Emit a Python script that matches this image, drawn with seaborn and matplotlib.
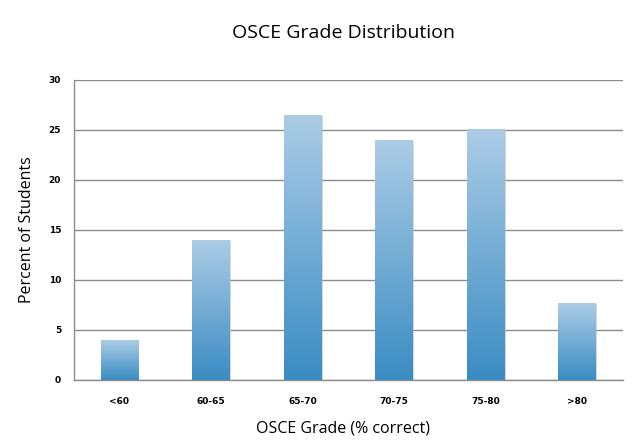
import numpy as np
import pandas as pd
import matplotlib
matplotlib.use('Agg')
import matplotlib.pyplot as plt
import seaborn as sns
from matplotlib.colors import LinearSegmentedColormap

# Data
grades = ['<60', '60-65', '65-70', '70-75', '75-80', '>80']
percent = [3.9, 13.9, 26.4, 23.9, 25.0, 7.6]
df = pd.DataFrame({'grade': grades, 'percent': percent})

sns.set_style('white')
plt.rcParams['font.family'] = ['Open Sans', 'DejaVu Sans']
plt.rcParams['text.color'] = 'black'
plt.rcParams['xtick.color'] = 'black'
plt.rcParams['ytick.color'] = 'black'

fig = plt.figure(figsize=(6.4, 4.46), dpi=100)
ax = fig.add_axes([0.115, 0.148, 0.858, 0.673])

sns.barplot(data=df, x='grade', y='percent', ax=ax, width=0.41,
            color='#6aa8d4', edgecolor='none', zorder=3)

# gradient fill: light at top, deeper blue at the bottom
cmap = LinearSegmentedColormap.from_list('bar', ['#3a8cc3', '#abcce6'])
grad = np.linspace(0, 1, 256).reshape(-1, 1)
for p in ax.patches:
    x0, w, h = p.get_x(), p.get_width(), p.get_height()
    # soft shadow
    ax.add_patch(plt.Rectangle((x0 + 0.015, -0.15), w, h + 0.1, color='#bbbbbb',
                               alpha=0.6, zorder=2, lw=0))
    ax.imshow(grad, cmap=cmap, aspect='auto', origin='lower',
              extent=[x0, x0 + w, 0, h], zorder=4)
    p.set_alpha(0)

ax.set_xlim(-0.5, 5.5)
ax.set_ylim(0, 30)
ax.set_yticks(range(0, 31, 5))
ax.yaxis.grid(True, color='#8c8c8c', lw=1)
ax.set_axisbelow(True)
for s in ['top', 'right']:
    ax.spines[s].set_visible(False)
for s in ['left', 'bottom']:
    ax.spines[s].set_color('#8c8c8c')
    ax.spines[s].set_linewidth(1)

ax.set_xticks(np.arange(-0.5, 6, 1), minor=False)
ax.set_xticklabels([])
ax.set_xticks(range(6), minor=True)
ax.set_xticklabels(grades, minor=True)
ax.tick_params(axis='x', which='major', length=4, color='#8c8c8c', direction='out')
ax.tick_params(axis='x', which='minor', length=0, pad=12)
ax.tick_params(axis='y', length=5, color='#8c8c8c', direction='out', pad=4)
for lbl in ax.get_xticklabels(minor=True) + ax.get_yticklabels():
    lbl.set_fontsize(6.5)
    lbl.set_fontweight('bold')
    lbl.set_family(['DejaVu Sans'])
    lbl.set_color('black')

ax.set_xlabel('')
ax.set_ylabel('')
fig.text(0.536, 0.925, 'OSCE Grade Distribution', ha='center', va='center',
         fontsize=14, color='black')
fig.text(0.536, 0.04, 'OSCE Grade (% correct)', ha='center', va='center',
         fontsize=11.5, color='black')
fig.text(0.042, 0.485, 'Percent of Students', ha='center', va='center',
         rotation=90, fontsize=11.5, color='black')

fig.savefig('out.png', dpi=100, facecolor='white')
